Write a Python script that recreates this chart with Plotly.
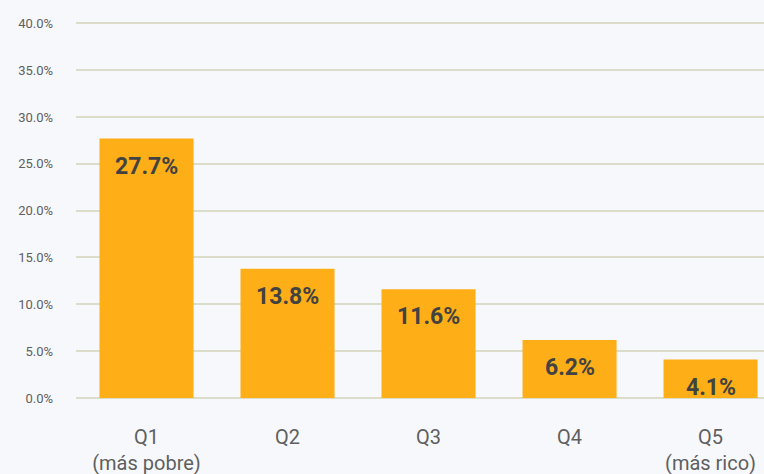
import plotly.graph_objects as go

# Share of households by income quintile
quintiles = ["Q1<br>(más pobre)", "Q2", "Q3", "Q4", "Q5<br>(más rico)"]
shares = [27.7, 13.8, 11.6, 6.2, 4.1]
y_ticks = [0, 5, 10, 15, 20, 25, 30, 35, 40]
y_tick_labels = [f"{v:.1f}%" for v in y_ticks]

BAR = "#FEAE17"
BG = "#F7F8FC"
GRID = "#DCDCCB"
LABEL = "#424242"
TICK = "#5F5F5F"

fig = go.Figure(
    go.Bar(
        x=list(range(len(quintiles))),
        y=shares,
        marker=dict(color=BAR, line=dict(width=0)),
        hoverinfo="skip",
    )
)

for i, v in enumerate(shares):
    fig.add_annotation(
        x=i, y=v, yanchor="top", yshift=-12,
        text=f"<b>{v:.1f}%</b>", showarrow=False,
        font=dict(family="Roboto", size=23, color=LABEL),
    )

fig.update_layout(
    width=764, height=474,
    margin=dict(l=76, r=0, t=20, b=76),
    paper_bgcolor=BG, plot_bgcolor=BG,
    bargap=0.333,
    showlegend=False,
    font=dict(family="Roboto", color=TICK),
)
fig.update_xaxes(
    tickmode="array",
    tickvals=list(range(len(quintiles))),
    ticktext=quintiles,
    range=[-0.5, 4.379],
    showgrid=False, zeroline=False,
    showline=False, automargin=False,
    tickfont=dict(family="Roboto", size=20, color=TICK),
    ticks="outside", ticklen=21, tickcolor="rgba(0,0,0,0)",
)
fig.update_yaxes(
    range=[0, 40.35],
    tickmode="array", tickvals=y_ticks, ticktext=y_tick_labels,
    showgrid=True, gridcolor=GRID, gridwidth=1.6,
    zeroline=True, zerolinecolor=GRID, zerolinewidth=2,
    showline=False, automargin=False,
    tickfont=dict(family="Roboto", size=13, color=TICK),
    ticklabelstandoff=22,
)

fig.write_html("out.html")
